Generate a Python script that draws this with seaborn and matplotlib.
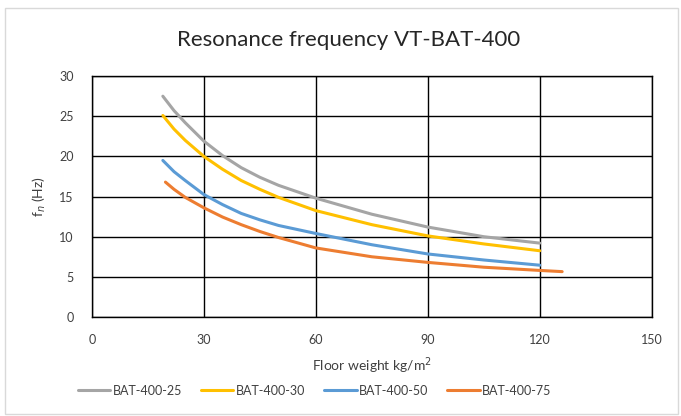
import pandas as pd
import matplotlib.pyplot as plt
import seaborn as sns
from matplotlib.patches import Rectangle

# Values
weight_25 = [19, 22, 25, 30, 35, 40, 45, 50, 60, 75, 90, 105, 120]
freq_25 = [27.5, 25.7, 24.2, 21.9, 20.1, 18.6, 17.4, 16.4, 14.8, 12.8, 11.2, 10.0, 9.2]

weight_30 = [19, 22, 25, 30, 35, 40, 45, 50, 60, 75, 90, 105, 120]
freq_30 = [25.1, 23.4, 22.0, 20.0, 18.4, 17.0, 15.9, 14.9, 13.25, 11.5, 10.1, 9.1, 8.25]

weight_50 = [19, 22, 25, 30, 35, 40, 45, 50, 60, 75, 90, 105, 120]
freq_50 = [19.5, 18.1, 17.0, 15.25, 14.0, 12.9, 12.1, 11.4, 10.4, 9.0, 7.85, 7.1, 6.45]

weight_75 = [19.7, 22, 25, 30, 35, 40, 45, 50, 60, 75, 90, 105, 120, 126]
freq_75 = [16.8, 15.9, 14.9, 13.6, 12.45, 11.5, 10.65, 9.9, 8.6, 7.5, 6.8, 6.2, 5.8, 5.65]

series_names = ['BAT-400-25', 'BAT-400-30', 'BAT-400-50', 'BAT-400-75']
colors = ['#A5A5A5', '#FFC000', '#5B9BD5', '#ED7D31']

x_ticks = [0, 30, 60, 90, 120, 150]
y_ticks = [0, 5, 10, 15, 20, 25, 30]

frames = []
for name, w, f in zip(series_names,
                      [weight_25, weight_30, weight_50, weight_75],
                      [freq_25, freq_30, freq_50, freq_75]):
    frames.append(pd.DataFrame({'weight': w, 'freq': f, 'series': name}))
df = pd.concat(frames, ignore_index=True)

sns.set_style('white')
plt.rcParams['font.family'] = ['Lato', 'DejaVu Sans']

fig = plt.figure(figsize=(6.81, 4.16), dpi=100)
ax = fig.add_axes([0.135, 0.238, 0.822, 0.579])

sns.lineplot(data=df, x='weight', y='freq', hue='series', palette=colors,
             hue_order=series_names, linewidth=2.2, sort=False, ax=ax)

ax.set_xlim(0, 150)
ax.set_ylim(0, 30)
ax.set_xticks(x_ticks)
ax.set_yticks(y_ticks)
ax.grid(True, color='black', linewidth=1)
ax.set_axisbelow(True)
for s in ax.spines.values():
    s.set_color('black')
    s.set_linewidth(1)
ax.tick_params(axis='x', length=0, labelsize=9, colors='#404040', pad=12)
ax.tick_params(axis='y', length=0, labelsize=9, colors='#404040', pad=13)

ax.set_xlabel('Floor weight kg/m$^2$', fontsize=10, color='#404040', labelpad=7)
ax.set_ylabel('f$_n$ (Hz)', fontsize=10, color='#404040', labelpad=8)
fig.text(0.512, 0.905, 'Resonance frequency VT-BAT-400', fontsize=16,
         color='#262626', ha='center', va='center')

leg = ax.legend(loc='upper center', bbox_to_anchor=(0.398, -0.235), ncol=4,
                frameon=False, fontsize=9, handlelength=2.6, columnspacing=1.5,
                handletextpad=0.2)
for t in leg.get_texts():
    t.set_color('#404040')

fig.patches.append(Rectangle((0.008, 0.005), 0.988, 0.975, transform=fig.transFigure,
                             fill=False, edgecolor='#D9D9D9', linewidth=1))

fig.savefig('out.png', dpi=100)
